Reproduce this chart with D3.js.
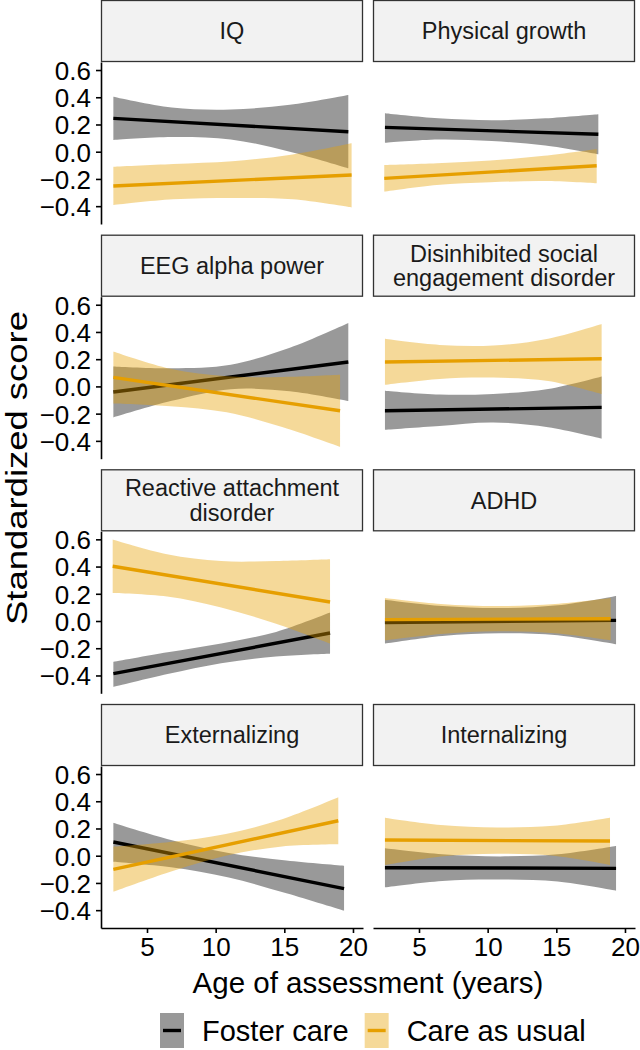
<!DOCTYPE html>
<html><head><meta charset="utf-8">
<script src="https://cdn.jsdelivr.net/npm/d3@7"></script>
<style>
html,body{margin:0;padding:0;background:#fff;}
svg{display:block;font-family:"Liberation Sans",Arial,Helvetica,sans-serif;}
</style></head><body>
<svg id="chart" width="640" height="1050"></svg>
<script>
// ---------- data ----------
const facetNames = ["IQ", "Physical growth", "EEG alpha power", "Disinhibited social engagement disorder",
  "Reactive attachment disorder", "ADHD", "Externalizing", "Internalizing"];
const stripLines = [["IQ"], ["Physical growth"], ["EEG alpha power"], ["Disinhibited social", "engagement disorder"],
  ["Reactive attachment", "disorder"], ["ADHD"], ["Externalizing"], ["Internalizing"]];
const groupNames = ["Foster care", "Care as usual"];
const groupColors = ["#000000", "#E69F00"];
const xTicks = [5, 10, 15, 20];
const yTicks = [-0.4, -0.2, 0.0, 0.2, 0.4, 0.6];
const xTitle = "Age of assessment (years)";
const yTitle = "Standardized score";

// Foster care (black)
const fosterAge = [
  [2.55, 6.8, 11.1, 15.4, 19.66],
  [2.52, 6.4, 10.3, 14.2, 18.06],
  [2.55, 6.8, 11.1, 15.4, 19.66],
  [2.52, 6.5, 10.4, 14.4, 18.3],
  [2.55, 6.5, 10.4, 14.4, 18.33],
  [2.52, 6.7, 10.9, 15.1, 19.35],
  [2.55, 6.75, 10.95, 15.15, 19.35],
  [2.52, 6.7, 10.9, 15.1, 19.35]
];
const fosterFit = [
  [0.245, 0.147], [0.179, 0.128], [-0.041, 0.179], [-0.179, -0.154],
  [-0.387, -0.088], [-0.012, 0.005], [0.101, -0.242], [-0.088, -0.093]
];
const fosterUpper = [
  [0.404, 0.325, 0.31, 0.345, 0.417],
  [0.282, 0.245, 0.232, 0.245, 0.275],
  [0.147, 0.134, 0.16, 0.284, 0.466],
  [-0.032, -0.06, -0.055, -0.019, 0.073],
  [-0.3, -0.23, -0.165, -0.08, 0.062],
  [0.157, 0.11, 0.095, 0.115, 0.184],
  [0.242, 0.115, 0.02, -0.036, -0.074],
  [0.054, 0.01, -0.005, 0.01, 0.071]
];
const fosterLower = [
  [0.086, 0.108, 0.09, 0.0, -0.122],
  [0.066, 0.09, 0.078, 0.045, -0.019],
  [-0.228, -0.106, -0.02, -0.036, -0.108],
  [-0.318, -0.29, -0.265, -0.3, -0.384],
  [-0.485, -0.39, -0.31, -0.26, -0.24],
  [-0.166, -0.11, -0.09, -0.105, -0.171],
  [-0.044, -0.085, -0.16, -0.276, -0.404],
  [-0.232, -0.185, -0.175, -0.19, -0.257]
];

// Care as usual (orange)
const cauAge = [
  [2.55, 6.9, 11.2, 15.6, 19.9],
  [2.47, 6.3, 10.2, 14.1, 17.94],
  [2.55, 6.7, 10.8, 14.9, 19.06],
  [2.52, 6.5, 10.4, 14.4, 18.3],
  [2.5, 6.46, 10.4, 14.4, 18.33],
  [2.52, 6.6, 10.7, 14.9, 18.96],
  [2.55, 6.65, 10.74, 14.84, 18.93],
  [2.52, 6.6, 10.7, 14.8, 18.91]
];
const cauFit = [
  [-0.252, -0.171], [-0.196, -0.103], [0.066, -0.179], [0.179, 0.203],
  [0.402, 0.14], [0.010, 0.017], [-0.1, 0.257], [0.115, 0.108]
];
const cauUpper = [
  [-0.11, -0.09, -0.07, -0.02, 0.062],
  [-0.098, -0.085, -0.065, -0.03, 0.02],
  [0.257, 0.13, 0.075, 0.07, 0.086],
  [0.35, 0.305, 0.30, 0.35, 0.458],
  [0.598, 0.49, 0.44, 0.44, 0.453],
  [0.169, 0.125, 0.11, 0.125, 0.169],
  [0.066, 0.10, 0.16, 0.268, 0.429],
  [0.279, 0.225, 0.208, 0.22, 0.279]
];
const cauLower = [
  [-0.392, -0.35, -0.34, -0.35, -0.41],
  [-0.294, -0.245, -0.225, -0.215, -0.232],
  [-0.125, -0.145, -0.19, -0.3, -0.444],
  [0.012, 0.055, 0.065, 0.04, -0.056],
  [0.206, 0.18, 0.1, -0.02, -0.166],
  [-0.142, -0.095, -0.075, -0.09, -0.142],
  [-0.265, -0.12, 0.0, 0.068, 0.084],
  [-0.068, -0.005, 0.015, 0.0, -0.068]
];

// ---------- layout ----------
const colLeft = [101, 373];
const panelW = 262;
const rowTop = [0, 234.7, 469.3, 704];
const stripH = 62;
const panelH = 162;
const xDomain = [1.65, 20.73];
const yDomain = [-0.531, 0.659];
const FONT_TICK = 26, FONT_STRIP = 23.5, FONT_TITLE = 29.5, FONT_LEGEND = 29;

const svg = d3.select("#chart");
const fmt = d3.format(".1f");

const groups = [
  {age: fosterAge, fit: fosterFit, up: fosterUpper, lo: fosterLower, color: groupColors[0]},
  {age: cauAge, fit: cauFit, up: cauUpper, lo: cauLower, color: groupColors[1]}
];

facetNames.forEach((name, i) => {
  const col = i % 2, row = Math.floor(i / 2);
  const x0 = colLeft[col], sTop = rowTop[row], pTop = sTop + stripH;
  const x = d3.scaleLinear().domain(xDomain).range([x0, x0 + panelW]);
  const y = d3.scaleLinear().domain(yDomain).range([pTop + panelH, pTop]);

  // strip
  svg.append("rect").attr("x", x0 + 0.5).attr("y", sTop + 0.5)
    .attr("width", panelW - 1).attr("height", stripH - 1)
    .attr("fill", "#F2F2F2").attr("stroke", "#333333").attr("stroke-width", 1.3);
  const lines = stripLines[i];
  const cy = sTop + stripH / 2;
  const lh = 24.5;
  lines.forEach((t, k) => {
    svg.append("text").attr("x", x0 + panelW / 2)
      .attr("y", cy + (k - (lines.length - 1) / 2) * lh + FONT_STRIP * 0.35)
      .attr("text-anchor", "middle").attr("font-size", FONT_STRIP).attr("fill", "#1a1a1a").text(t);
  });

  const g = svg.append("g");
  groups.forEach(gr => {
    const pts = gr.age[i].map((a, k) => ({a, lo: gr.lo[i][k], hi: gr.up[i][k]}));
    const area = d3.area().x(d => x(d.a)).y0(d => y(d.lo)).y1(d => y(d.hi))
      .curve(d3.curveCatmullRom.alpha(0.5));
    g.append("path").attr("d", area(pts)).attr("fill", gr.color).attr("fill-opacity", 0.4);
    const ages = gr.age[i];
    const lp = [{a: ages[0], v: gr.fit[i][0]}, {a: ages[ages.length - 1], v: gr.fit[i][1]}];
    g.append("path").attr("d", d3.line().x(d => x(d.a)).y(d => y(d.v))(lp))
      .attr("fill", "none").attr("stroke", gr.color).attr("stroke-width", 3.4);
  });

  if (col === 0) {
    const ax = svg.append("g").attr("transform", `translate(${x0},0)`)
      .call(d3.axisLeft(y).tickValues(yTicks).tickFormat(fmt).tickSize(5).tickSizeOuter(0).tickPadding(5));
    styleAxis(ax);
    ax.selectAll("text").attr("dy", "0.36em");
  }
  if (row === 3) {
    const ax = svg.append("g").attr("transform", `translate(0,${pTop + panelH})`)
      .call(d3.axisBottom(x).tickValues(xTicks).tickSize(5).tickSizeOuter(0).tickPadding(5));
    styleAxis(ax);
  }
});

function styleAxis(ax) {
  ax.attr("font-family", null).attr("font-size", null);
  ax.select(".domain").attr("stroke", "#000").attr("stroke-width", 1.6);
  ax.selectAll(".tick line").attr("stroke", "#000").attr("stroke-width", 1.6);
  ax.selectAll(".tick text").attr("fill", "#000").attr("font-size", FONT_TICK);
}

// axis titles
svg.append("text").attr("x", 368).attr("y", 993).attr("text-anchor", "middle")
  .attr("font-size", FONT_TITLE).attr("fill", "#000").text(xTitle);
svg.append("text").attr("transform", "translate(27,468) rotate(-90)")
  .attr("text-anchor", "middle").attr("font-size", 30).attr("fill", "#000")
  .attr("textLength", 314).attr("lengthAdjust", "spacingAndGlyphs").text(yTitle);

// legend
const keyW = 24, keyH = 35, keyY = 1013;
const leg = svg.append("g");
let lx = 160;
groupNames.forEach((nm, k) => {
  leg.append("rect").attr("x", lx).attr("y", keyY).attr("width", keyW).attr("height", keyH)
    .attr("fill", groupColors[k]).attr("fill-opacity", 0.4);
  leg.append("line").attr("x1", lx + 3).attr("x2", lx + keyW - 3)
    .attr("y1", keyY + keyH / 2).attr("y2", keyY + keyH / 2)
    .attr("stroke", groupColors[k]).attr("stroke-width", 3.4);
  const t = leg.append("text").attr("x", lx + keyW + 18).attr("y", keyY + keyH / 2 + FONT_LEGEND * 0.36)
    .attr("font-size", FONT_LEGEND).attr("fill", "#000").text(nm);
  lx = lx + keyW + 18 + t.node().getComputedTextLength() + 16;
});
</script>
</body></html>
